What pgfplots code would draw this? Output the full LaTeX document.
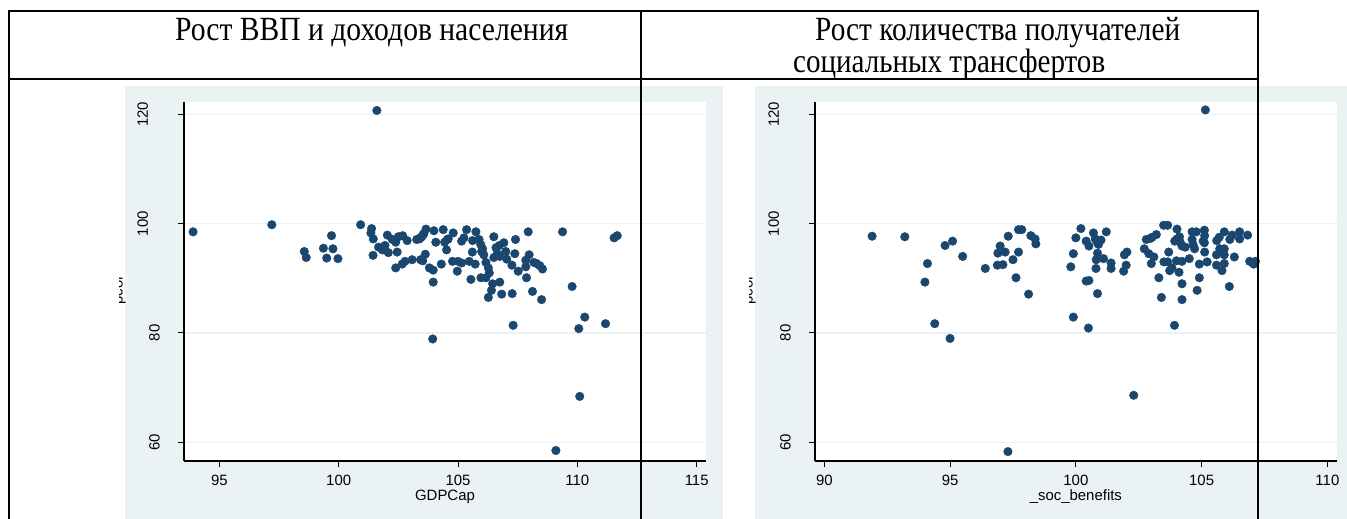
\documentclass[border=0pt]{standalone}
\usepackage{fontspec}
\setmainfont{Liberation Sans}
\newfontfamily\timesf{Liberation Serif}
\usepackage{graphicx}
\usepackage{pgfplots}
\pgfplotsset{compat=1.18}
\definecolor{stbg}{RGB}{234,242,243}
\definecolor{stnavy}{RGB}{26,71,111}
\pgfplotsset{stata/.style={
  anchor=south west, scale only axis, height=359bp,
  ymin=56.58, ymax=122.25,
  axis x line=bottom, axis y line=left,
  axis line style={-, line width=1.2bp, black},
  tick align=outside, major tick length=6bp,
  every tick/.style={black, line width=1bp},
  ytick={60,80,100,120},
  yticklabels={60,80,\raisebox{12bp}{100},\raisebox{12bp}{120}},
  ymajorgrids, major grid style={stbg, line width=1.5bp},
  xticklabel style={anchor=base, inner sep=0pt, yshift=-18bp, font=\fontsize{15}{15}\selectfont},
  yticklabel style={rotate=90, anchor=south, inner sep=0pt, font=\fontsize{15}{15}\selectfont},
  yticklabel shift=18bp,
  xlabel style={at={(axis description cs:0.5,0)}, anchor=base, inner sep=0pt, yshift=-39bp, font=\fontsize{15}{15}\selectfont},
  clip=true,
}}
\begin{document}
\begin{tikzpicture}
\useasboundingbox (0bp,0bp) rectangle (1347bp,519bp);
\begin{scope}[x=1bp,y=1bp]
\fill[white] (0,0) rectangle (1347,519);
\fill[stbg] (125,0) rectangle (723,433);
\fill[stbg] (755,0) rectangle (1347,433);
\fill[white] (184,58) rectangle (706,417);
\fill[white] (815,58) rectangle (1337,417);
\end{scope}

\begin{axis}[stata, at={(184bp,58bp)}, width=522bp,
  xmin=93.52, xmax=115.39,
  xtick={95,100,105,110,115}, xticklabels={95,100,105,110,115},
  xlabel={GDPCap}]
\addplot[only marks, mark=*, mark size=4.3bp, color=stnavy, mark options={draw=stnavy, fill=stnavy}] table {
93.9 98.5
97.2 99.8
101.6 120.7
100.92 99.8
98.56 94.9
98.64 93.8
99.36 95.5
99.5 93.7
99.76 95.4
99.7 97.8
99.97 93.6
101.38 99.1
101.35 98.3
101.45 97.2
101.44 94.2
101.67 95.7
101.83 95.2
101.94 96.0
102.04 97.9
102.08 94.7
102.25 97.1
102.39 96.6
102.45 94.8
102.39 91.9
102.5 97.6
102.68 97.8
102.66 92.6
102.78 93.1
102.87 96.9
103.08 93.4
103.27 97.1
103.38 97.2
103.48 97.6
103.57 98.2
103.66 99.0
103.43 93.4
103.52 93.2
103.63 94.4
103.8 91.9
103.96 91.5
103.99 98.7
104.07 96.6
103.96 89.3
103.94 78.9
104.3 92.6
104.38 98.9
104.44 96.6
104.55 97.1
104.52 95.2
104.59 97.2
104.8 98.3
104.77 93.1
104.97 91.3
105.0 93.1
105.15 92.8
105.15 96.8
105.25 97.4
105.36 98.9
105.47 93.1
105.54 89.8
105.6 94.8
105.61 96.9
105.72 92.6
105.75 98.5
105.88 97.1
105.95 96.2
105.99 94.9
106.03 95.4
106.08 94.3
105.96 90.1
106.17 92.9
106.17 90.1
106.27 91.9
106.31 91.0
106.27 86.5
106.4 87.8
106.45 89.0
106.5 97.6
106.5 93.8
106.59 95.6
106.64 94.5
106.73 96.0
106.75 89.3
106.83 87.1
106.75 94.0
106.92 96.5
107.0 94.9
107.04 93.5
107.26 92.4
107.27 87.2
107.38 94.5
107.41 97.1
107.31 81.4
107.52 91.3
107.84 93.3
107.94 98.5
107.98 94.3
107.84 92.1
107.87 90.1
108.12 87.6
108.18 92.9
108.29 92.7
108.43 92.3
108.54 91.7
108.5 86.1
109.38 98.5
109.78 88.5
110.31 82.9
110.06 80.8
111.18 81.7
110.1 68.4
111.54 97.4
111.67 97.8
109.1 58.5
103.43 97.4
103.54 98.0
};
\end{axis}

\begin{axis}[stata, at={(815bp,58bp)}, width=521.7bp,
  xmin=89.63, xmax=110.37,
  xtick={90,95,100,105,110}, xticklabels={90,95,100,105,110},
  xlabel={\_soc\_benefits}]
\addplot[only marks, mark=*, mark size=4.3bp, color=stnavy, mark options={draw=stnavy, fill=stnavy}] table {
91.9 97.7
93.2 97.6
94.1 92.7
94.8 96.0
95.1 96.8
95.5 94.0
96.4 91.8
94.0 89.3
94.39 81.7
95.0 79.0
96.88 92.4
97.1 92.5
96.9 94.6
96.99 95.9
97.19 94.8
97.31 97.7
97.5 93.4
97.62 90.1
97.72 94.8
97.72 98.9
97.85 98.9
98.12 87.1
98.21 97.8
98.38 97.2
98.41 96.3
97.3 58.3
99.8 92.1
99.9 94.5
99.9 82.9
100.0 97.4
100.2 99.1
100.41 96.8
100.52 95.9
100.41 89.5
100.52 89.6
100.5 80.9
100.7 98.3
100.77 97.2
100.86 96.5
100.86 94.6
100.81 93.4
100.8 91.8
100.86 87.2
100.9 96.2
101.0 97.0
101.1 93.6
101.21 98.5
101.4 92.8
101.4 91.8
101.9 91.3
102.0 92.4
101.93 94.3
102.03 94.8
102.3 68.6
102.72 95.4
102.8 97.1
102.96 97.3
103.03 97.5
103.2 98.0
102.9 94.5
103.1 93.9
103.0 92.7
103.3 90.1
103.4 86.5
103.49 99.7
103.65 99.7
103.5 93.0
103.65 93.0
103.69 94.8
103.73 91.4
103.82 91.9
103.92 81.4
103.93 96.8
104.02 97.2
104.12 97.6
104.15 96.6
104.02 99.0
104.0 93.2
104.22 93.1
104.1 91.1
104.22 89.0
104.22 86.1
104.22 95.9
104.35 95.7
104.51 93.6
104.62 98.5
104.79 98.5
104.62 97.1
104.66 96.2
104.72 95.4
104.82 87.8
104.91 92.6
104.91 90.1
105.11 98.8
105.12 97.8
105.06 96.8
105.11 96.5
105.12 94.8
105.22 93.0
105.15 120.8
105.6 96.9
105.7 97.5
105.59 94.3
105.59 92.4
105.81 91.4
105.72 95.4
105.9 95.4
105.9 94.3
105.9 98.5
105.9 92.7
106.1 88.5
106.12 97.1
106.21 97.9
106.3 93.9
106.51 98.5
106.51 97.2
106.83 97.9
106.91 93.1
107.05 92.8
107.14 93.1
107.07 92.6
};
\end{axis}

\begin{scope}[x=1bp,y=1bp]
% partially hidden y titles
\begin{scope}
\clip (119,150) rectangle (125,300);
\node[rotate=90, anchor=south, inner sep=0pt, font=\fontsize{15}{15}\selectfont] at (126,229) {pcor};
\end{scope}
\begin{scope}
\clip (749,150) rectangle (755,300);
\node[rotate=90, anchor=south, inner sep=0pt, font=\fontsize{15}{15}\selectfont] at (756,229) {pcor};
\end{scope}
% table lines
\draw[line width=2bp] (9,508) -- (1259,508);
\draw[line width=2bp] (9,440) -- (1259,440);
\draw[line width=2bp] (9,0) -- (9,509);
\draw[line width=2bp] (641,0) -- (641,509);
\draw[line width=2bp] (1258,0) -- (1258,509);
% header texts
\node[anchor=base west, inner sep=0pt] at (175,478) {\timesf\fontsize{34}{34}\selectfont\resizebox{393bp}{\height}{Рост ВВП и доходов населения}};
\node[anchor=base west, inner sep=0pt] at (815,478) {\timesf\fontsize{34}{34}\selectfont\resizebox{365bp}{\height}{Рост количества получателей}};
\node[anchor=base west, inner sep=0pt] at (793,446) {\timesf\fontsize{34}{34}\selectfont\resizebox{312bp}{\height}{социальных трансфертов}};
\end{scope}
\end{tikzpicture}
\end{document}
